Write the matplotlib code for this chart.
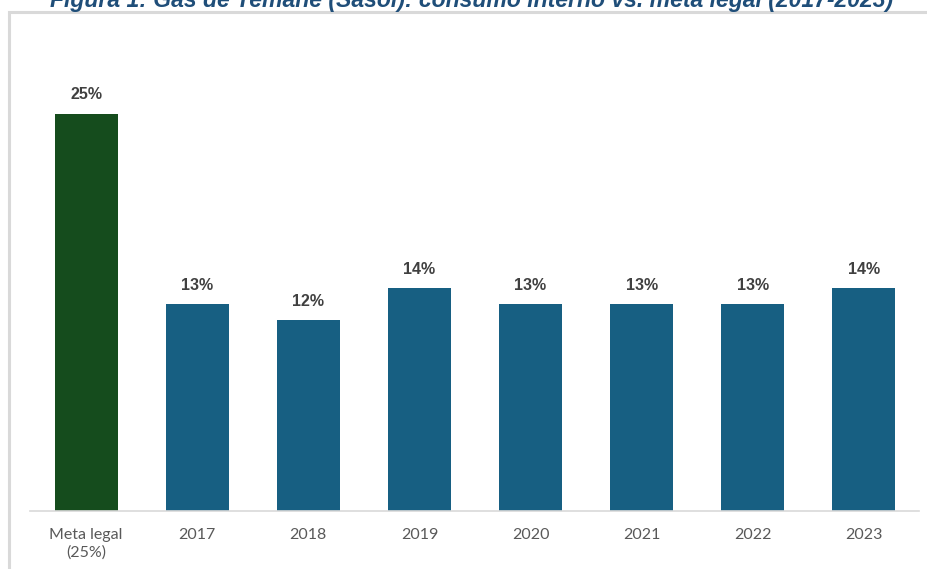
import matplotlib.pyplot as plt
from matplotlib.patches import Rectangle

# Data
categories = ["Meta legal\n(25%)", "2017", "2018", "2019", "2020", "2021", "2022", "2023"]
values = [25, 13, 12, 14, 13, 13, 13, 14]
colors = ["#154c1d"] + ["#175f82"] * 7

W, H = 928, 569
fig = plt.figure(figsize=(W / 100, H / 100), dpi=100)
fig.patch.set_facecolor("white")

# Outer frame (runs off the right and bottom edges)
fig.patches.append(Rectangle((9 / W, -0.1), 1.2, (H - 12) / H + 0.1,
                             transform=fig.transFigure, fill=False,
                             edgecolor="#d9d9d9", linewidth=2.2))

# Title, clipped at the top of the image
fig.text(472 / W, 1 - 7 / H, "Figura 1: Gás de Temane (Sasol): consumo interno vs. meta legal (2017-2023)",
         ha="center", va="baseline", fontsize=16.6, fontweight="bold", fontstyle="italic",
         color="#1f4e79", family="Liberation Sans")

# Axes placed in pixel coordinates
left, right, bottom, top = 30.5, 919.5, 511, 34
ax = fig.add_axes([left / W, (H - bottom) / H, (right - left) / W, (bottom - top) / H])
x = range(len(categories))
bars = ax.bar(x, values, width=0.567, color=colors)
ax.set_xlim(-0.5, len(categories) - 0.5)
ax.set_ylim(0, 30)

for b, v in zip(bars, values):
    ax.annotate(f"{v}%", (b.get_x() + b.get_width() / 2, v), xytext=(0, 8),
                textcoords="offset points", ha="center", va="bottom",
                fontsize=11.5, fontweight="bold", color="#404040", family="Liberation Sans")

ax.set_xticks(list(x))
ax.set_xticklabels(categories, fontsize=11.5, color="#595959", family="Lato", linespacing=1.3)
ax.tick_params(axis="x", length=0, pad=12)
ax.set_yticks([])
for s in ["top", "right", "left"]:
    ax.spines[s].set_visible(False)
ax.spines["bottom"].set_color("#d9d9d9")
ax.spines["bottom"].set_linewidth(1.2)
ax.set_facecolor("none")

fig.savefig("out.png", dpi=100)
